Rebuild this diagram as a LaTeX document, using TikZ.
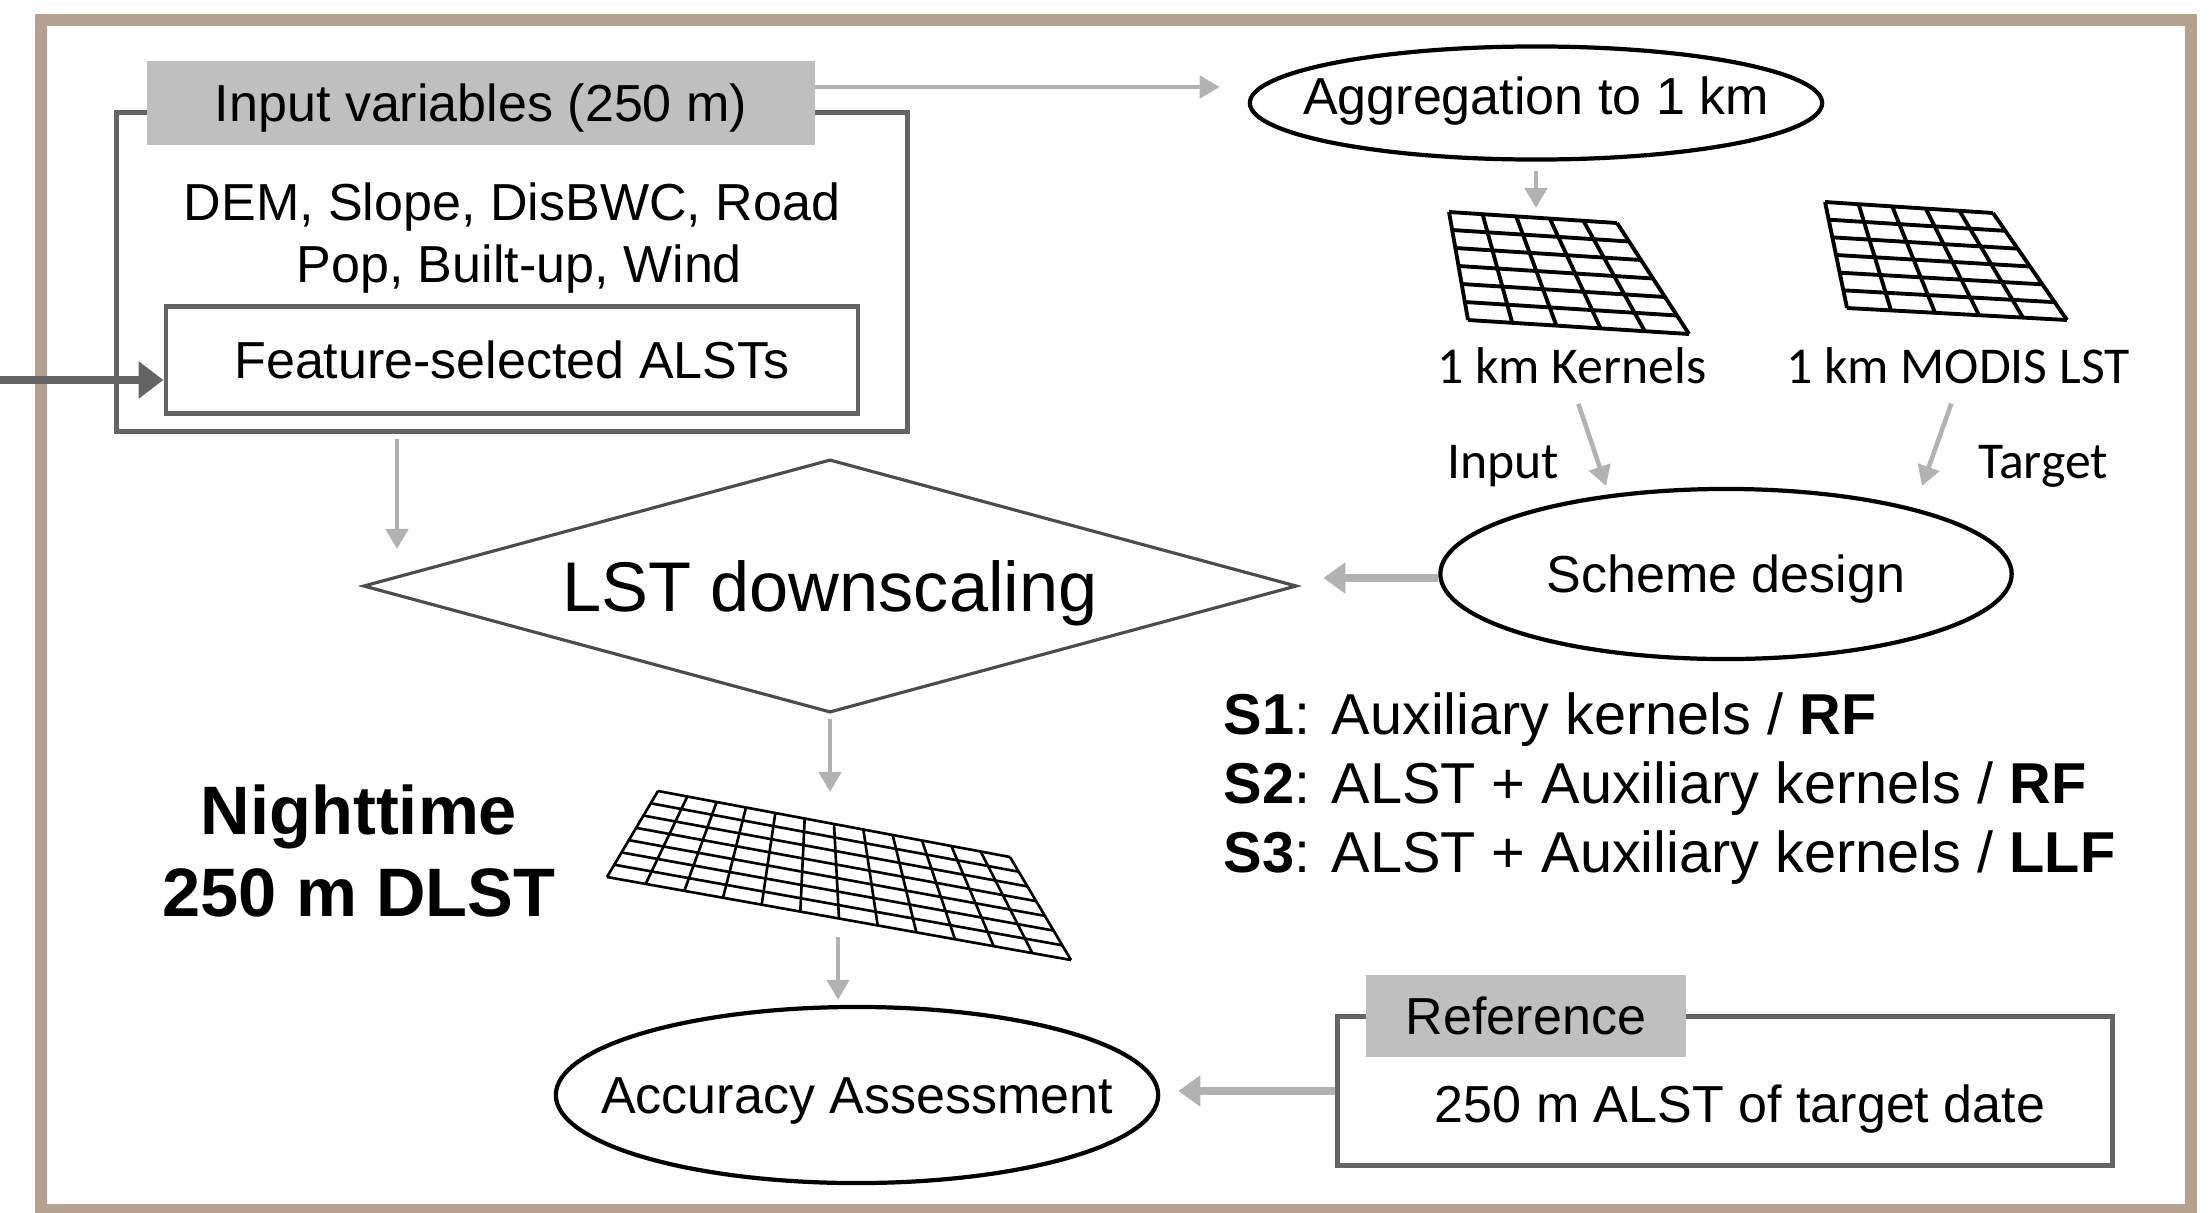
\documentclass[tikz,border=0pt]{standalone}
\usepackage{fontspec}
\setmainfont{Liberation Sans}
\newfontfamily\calibrifont{Carlito}
\usepackage{tikz}
\usetikzlibrary{shapes.geometric,arrows.meta,calc}

\definecolor{framebrown}{RGB}{181,161,143}
\definecolor{boxgray}{RGB}{100,100,100}
\definecolor{headgray}{RGB}{191,191,191}
\definecolor{arrowgray}{RGB}{178,178,178}
\definecolor{darkarrow}{RGB}{100,100,100}

\newcommand{\mainsize}{\fontsize{14.8}{17.6}\selectfont}
\newcommand{\labelsize}{\calibrifont\fontsize{14.7}{17}\selectfont}
% text of no size, centred on its capitals
\newcommand{\midtext}[1]{\makebox[0pt]{\smash{\raisebox{-0.36em}{#1}}}}

% warped mesh between four corners: tl, tr, br, bl, columns, rows, style
\newcommand{\drawmesh}[7]{%
  \foreach \i in {0,...,#5}
    \draw[#7] ($(#1)!\i/#5!(#2)$) -- ($(#4)!\i/#5!(#3)$);
  \foreach \j in {0,...,#6}
    \draw[#7] ($(#1)!\j/#6!(#4)$) -- ($(#2)!\j/#6!(#3)$);
}

\begin{document}
\begin{tikzpicture}[x=0.01cm, y=-0.01cm,
  every node/.style={inner sep=0pt},
  plainbox/.style={draw=boxgray, line width=1.3pt, font=\mainsize},
  hdr/.style={fill=headgray, font=\mainsize},
  oval/.style={ellipse, draw=black, line width=1.2pt, font=\mainsize},
  meshline/.style={black, line width=1.1pt},
  finemesh/.style={black, line width=0.75pt},
  flow/.style={draw=arrowgray, line width=1.3pt, -{Triangle[length=0.2cm,width=0.22cm]}},
  bigflow/.style={draw=arrowgray, line width=2.2pt, -{Triangle[length=0.22cm,width=0.3cm]}},
  darkflow/.style={draw=darkarrow, line width=2pt, -{Triangle[length=0.25cm,width=0.36cm]}}]

\useasboundingbox (0,0) rectangle (2209,1212);

% outer frame
\draw[framebrown, line width=3.4pt] (41,20) rectangle (2191,1210);

% input variables block
\node[plainbox, minimum width=7.90cm, minimum height=3.19cm] (inbox) at (512,272) {};
\node[hdr, minimum width=6.67cm, minimum height=0.84cm] (inhdr) at (481,103) {\midtext{Input variables (250 m)}};
\node[align=center, font=\mainsize] (invars) at (512,238) {DEM, Slope, DisBWC, Road\\ \ Pop, Built-up, Wind};
\node[plainbox, minimum width=6.92cm, minimum height=1.07cm] (feat) at (512,360) {\midtext{Feature-selected ALSTs}};

% aggregation and 1 km grids
\node[oval, minimum width=5.72cm, minimum height=1.13cm] (agg) at (1536,103) {\midtext{\raisebox{2pt}{Aggregation to 1 km}}};

\coordinate (ka) at (1449,212);
\coordinate (kb) at (1617,223);
\coordinate (kc) at (1689,334);
\coordinate (kd) at (1468,320);
\drawmesh{ka}{kb}{kc}{kd}{5}{6}{meshline}

\coordinate (ma) at (1825,202);
\coordinate (mb) at (1993,213);
\coordinate (mc) at (2067,320);
\coordinate (md) at (1847,308);
\drawmesh{ma}{mb}{mc}{md}{5}{6}{meshline}

\node[font=\labelsize] (kern) at (1572,366) {1 km Kernels};
\node[font=\labelsize] (modis) at (1958,366) {1 km MODIS LST};
\node[font=\labelsize] (inlbl) at (1503,466) {Input};
\node[font=\labelsize] (tglbl) at (2043,466) {Target};

\node[oval, minimum width=5.71cm, minimum height=1.70cm] (scheme) at (1726,574) {\midtext{Scheme design}};

% downscaling
\node[diamond, draw=black!70, line width=0.9pt, minimum width=9.33cm, minimum height=2.53cm,
      font=\fontsize{20}{24}\selectfont] (dn) at (830,586) {\midtext{LST downscaling}};

\node[anchor=west, align=left, font=\fontsize{16.4}{19.6}\selectfont] (schemes) at (1223,789)
  {\textbf{S1}: Auxiliary kernels / \textbf{RF}\\
   \textbf{S2}: ALST + Auxiliary kernels / \textbf{RF}\\
   \textbf{S3}: ALST + Auxiliary kernels / \textbf{LLF}};

\node[align=center, font=\bfseries\fontsize{19.5}{23.3}\selectfont] (night) at (359,851) {Nighttime\\250 m DLST};

% 250 m result grid
\coordinate (ga) at (658,791);
\coordinate (gb) at (1010,857);
\coordinate (gc) at (1071,960);
\coordinate (gd) at (607,877);
\drawmesh{ga}{gb}{gc}{gd}{12}{7}{finemesh}

% assessment
\node[oval, minimum width=6.02cm, minimum height=1.76cm] (acc) at (857,1095) {\midtext{Accuracy Assessment}};
\node[plainbox, minimum width=7.75cm, minimum height=1.49cm] (refbox) at (1725,1091) {};
\node[hdr, minimum width=3.19cm, minimum height=0.82cm] (refhdr) at (1526,1016) {\midtext{Reference}};
\node[font=\mainsize] (reftxt) at (1740,1109) {250 m ALST of target date};

% free arrow ends
\coordinate (k1top) at (1536,208);
\coordinate (inend) at (1606,486);
\coordinate (tgend) at (1922,486);
\coordinate (dnin) at (397,549);
\coordinate (bgtop) at (834,792);
\coordinate (bgbot) at (838,937);
\coordinate (leftin) at (0,380);

% arrows
\draw[flow] ([yshift=0.16cm]inhdr.east) -- ([xshift=-0.28cm,yshift=0.16cm]agg.west);
\draw[flow, shorten <=0.09cm] (agg.south) -- (k1top);
\draw[flow, shorten <=0.2cm] (kern.south) -- (inend);
\draw[flow, shorten <=0.2cm] (modis.south) -- (tgend);
\draw[bigflow, shorten >=0.25cm] ([yshift=-0.04cm]scheme.west) -- ([yshift=-0.04cm]scheme.west -| dn.east);
\draw[flow, shorten <=0.05cm] (dnin |- inbox.south) -- (dnin);
\draw[flow, shorten <=0.05cm] (dn.south) -- (dn.south |- bgtop);
\draw[flow, shorten >=0.05cm] (bgbot) -- (bgbot |- acc.north);
\draw[bigflow, shorten >=0.18cm] (refbox.west) -- (refbox.west -| acc.east);
\draw[darkflow] (leftin) -- (leftin -| feat.west);

\end{tikzpicture}
\end{document}
